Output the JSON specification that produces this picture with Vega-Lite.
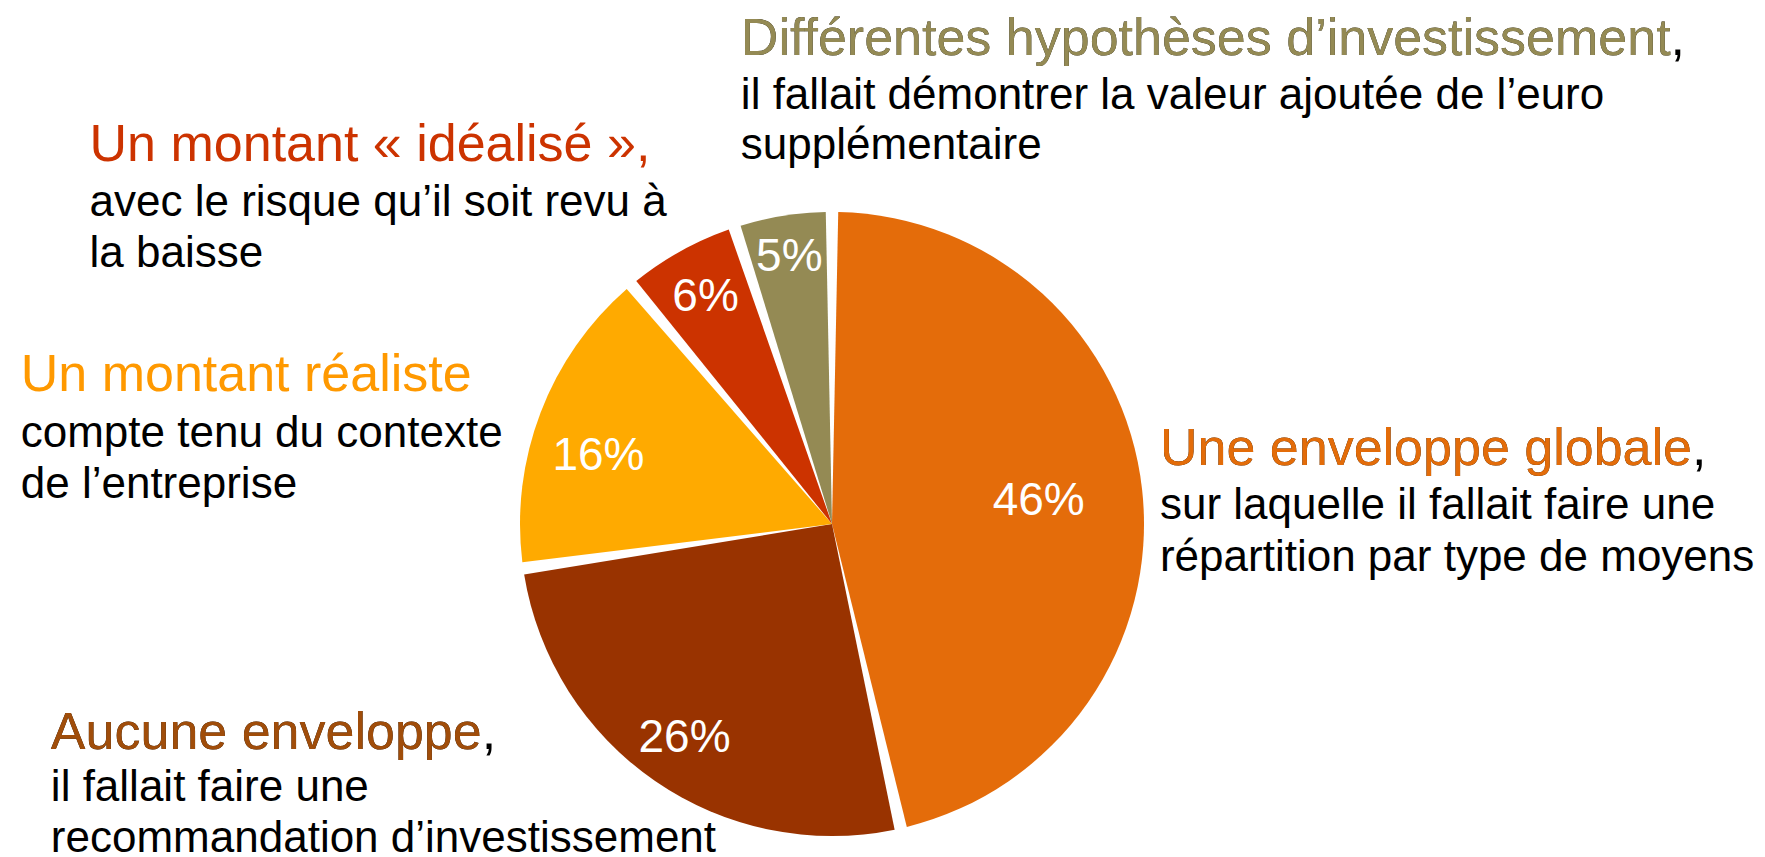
{
  "$schema": "https://vega.github.io/schema/vega-lite/v6.json",
  "autosize": {"type": "none"},
  "padding": {"left": 0, "top": 191, "right": 101, "bottom": 0},
  "width": 1664,
  "height": 666,
  "background": "#ffffff",
  "config": {"view": {"stroke": null}, "text": {"font": "Liberation Sans"}},
  "data": {"values": [
    {"rank": 1, "cat": "Une enveloppe globale", "value": 46, "pct": "46%", "heading": "Une enveloppe globale", "headingFull": "Une enveloppe globale,", "body": ["sur laquelle il fallait faire une", "répartition par type de moyens"]},
    {"rank": 2, "cat": "Aucune enveloppe", "value": 26, "pct": "26%", "heading": "Aucune enveloppe", "headingFull": "Aucune enveloppe,", "body": ["il fallait faire une", "recommandation d’investissement"]},
    {"rank": 3, "cat": "Un montant réaliste", "value": 16, "pct": "16%", "heading": "Un montant réaliste", "headingFull": "Un montant réaliste", "body": ["compte tenu du contexte", "de l’entreprise"]},
    {"rank": 4, "cat": "Un montant « idéalisé »", "value": 6, "pct": "6%", "heading": "Un montant « idéalisé »,", "headingFull": "Un montant « idéalisé »,", "body": ["avec le risque qu’il soit revu à", "la baisse"]},
    {"rank": 5, "cat": "Différentes hypothèses d’investissement", "value": 5, "pct": "5%", "heading": "Différentes hypothèses d’investissement", "headingFull": "Différentes hypothèses d’investissement,", "body": ["il fallait démontrer la valeur ajoutée de l’euro", "supplémentaire"]}
  ]},
  "encoding": {
    "theta": {"field": "value", "type": "quantitative", "stack": true},
    "order": {"field": "rank", "type": "quantitative"}
  },
  "layer": [
    {
      "mark": {"type": "arc", "outerRadius": 312, "padAngle": 0.04},
      "encoding": {
        "color": {"field": "cat", "type": "nominal", "legend": null,
          "scale": {"domain": ["Une enveloppe globale", "Aucune enveloppe", "Un montant réaliste", "Un montant « idéalisé »", "Différentes hypothèses d’investissement"],
                    "range": ["#E46C0A", "#993300", "#FFAA00", "#CC3300", "#948A54"]}}
      }
    },
    {
      "mark": {"type": "text", "radius": 208, "align": "center", "baseline": "middle", "fontSize": 46, "color": "#ffffff"},
      "encoding": {"text": {"condition": {"test": "datum.rank === 1", "field": "pct"}, "value": ""}}
    },
    {
      "mark": {"type": "text", "radius": 260, "align": "center", "baseline": "middle", "fontSize": 46, "color": "#ffffff"},
      "encoding": {"text": {"condition": {"test": "datum.rank === 2 || datum.rank === 4", "field": "pct"}, "value": ""}}
    },
    {
      "mark": {"type": "text", "radius": 250, "align": "center", "baseline": "middle", "dy": 21, "fontSize": 46, "color": "#ffffff"},
      "encoding": {"text": {"condition": {"test": "datum.rank === 3", "field": "pct"}, "value": ""}}
    },
    {
      "mark": {"type": "text", "radius": 270, "align": "center", "baseline": "middle", "fontSize": 46, "color": "#ffffff"},
      "encoding": {"text": {"condition": {"test": "datum.rank === 5", "field": "pct"}, "value": ""}}
    },
    {
      "mark": {"type": "text", "radius": 330, "align": "left", "baseline": "alphabetic", "dx": 0, "dy": -22, "fontSize": 52, "color": "#000000"},
      "encoding": {"text": {"condition": {"test": "datum.rank === 1", "field": "headingFull"}, "value": ""}}
    },
    {
      "mark": {"type": "text", "radius": 330, "align": "left", "baseline": "alphabetic", "dx": 0, "dy": -22, "fontSize": 52, "color": "#E36C09"},
      "encoding": {"text": {"condition": {"test": "datum.rank === 1", "field": "heading"}, "value": ""}}
    },
    {
      "mark": {"type": "text", "radius": 330, "align": "left", "baseline": "alphabetic", "dx": 0, "dy": 32, "fontSize": 44, "lineHeight": 52, "color": "#000000"},
      "encoding": {"text": {"condition": {"test": "datum.rank === 1", "field": "body"}, "value": ""}}
    },
    {
      "mark": {"type": "text", "radius": 330, "align": "left", "baseline": "alphabetic", "dx": -594, "dy": -47, "fontSize": 52, "color": "#000000"},
      "encoding": {"text": {"condition": {"test": "datum.rank === 2", "field": "headingFull"}, "value": ""}}
    },
    {
      "mark": {"type": "text", "radius": 330, "align": "left", "baseline": "alphabetic", "dx": -594, "dy": -47, "fontSize": 52, "color": "#A04D0A"},
      "encoding": {"text": {"condition": {"test": "datum.rank === 2", "field": "heading"}, "value": ""}}
    },
    {
      "mark": {"type": "text", "radius": 330, "align": "left", "baseline": "alphabetic", "dx": -594, "dy": 5, "fontSize": 44, "lineHeight": 51, "color": "#000000"},
      "encoding": {"text": {"condition": {"test": "datum.rank === 2", "field": "body"}, "value": ""}}
    },
    {
      "mark": {"type": "text", "radius": 330, "align": "left", "baseline": "alphabetic", "dx": -503, "dy": -15, "fontSize": 52, "color": "#FF9900"},
      "encoding": {"text": {"condition": {"test": "datum.rank === 3", "field": "heading"}, "value": ""}}
    },
    {
      "mark": {"type": "text", "radius": 330, "align": "left", "baseline": "alphabetic", "dx": -503, "dy": 41, "fontSize": 44, "lineHeight": 51, "color": "#000000"},
      "encoding": {"text": {"condition": {"test": "datum.rank === 3", "field": "body"}, "value": ""}}
    },
    {
      "mark": {"type": "text", "radius": 330, "align": "left", "baseline": "alphabetic", "dx": -582, "dy": -75, "fontSize": 52, "color": "#CC3300"},
      "encoding": {"text": {"condition": {"test": "datum.rank === 4", "field": "heading"}, "value": ""}}
    },
    {
      "mark": {"type": "text", "radius": 330, "align": "left", "baseline": "alphabetic", "dx": -582, "dy": -20, "fontSize": 44, "lineHeight": 51, "color": "#000000"},
      "encoding": {"text": {"condition": {"test": "datum.rank === 4", "field": "body"}, "value": ""}}
    },
    {
      "mark": {"type": "text", "radius": 330, "align": "left", "baseline": "alphabetic", "dx": -39, "dy": -143, "fontSize": 52, "color": "#000000"},
      "encoding": {"text": {"condition": {"test": "datum.rank === 5", "field": "headingFull"}, "value": ""}}
    },
    {
      "mark": {"type": "text", "radius": 330, "align": "left", "baseline": "alphabetic", "dx": -39, "dy": -143, "fontSize": 52, "color": "#948A54"},
      "encoding": {"text": {"condition": {"test": "datum.rank === 5", "field": "heading"}, "value": ""}}
    },
    {
      "mark": {"type": "text", "radius": 330, "align": "left", "baseline": "alphabetic", "dx": -39, "dy": -89, "fontSize": 44, "lineHeight": 50, "color": "#000000"},
      "encoding": {"text": {"condition": {"test": "datum.rank === 5", "field": "body"}, "value": ""}}
    }
  ]
}
